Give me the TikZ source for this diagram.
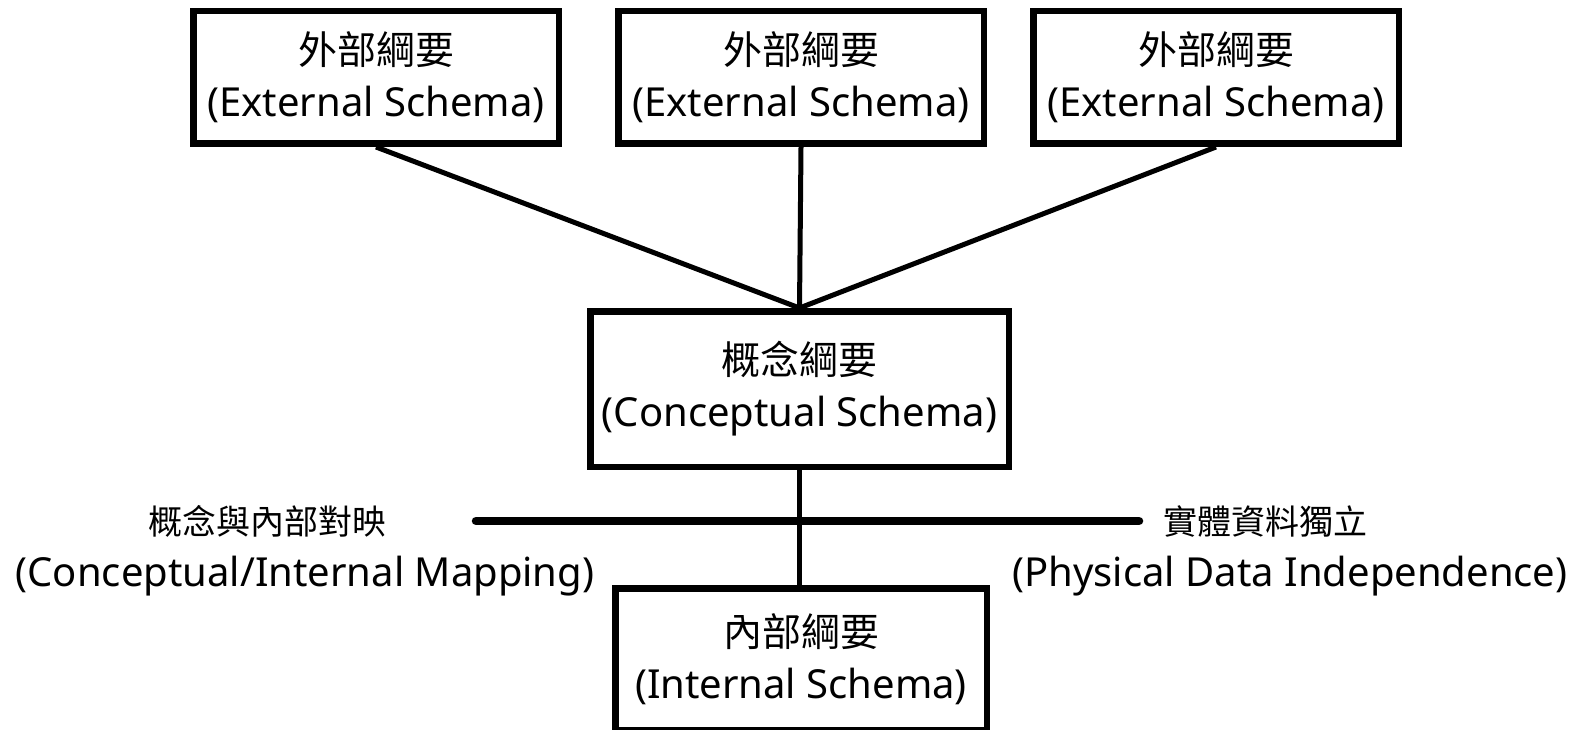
\documentclass[tikz,border=0pt]{standalone}
\usepackage{fontspec}
\setmainfont{Noto Sans}
\newfontfamily\cjk{Noto Sans CJK TC}
\newcommand{\zhbox}[1]{{\cjk\fontsize{39}{52}\selectfont #1}}
\newcommand{\zhlabel}[1]{{\cjk\fontsize{34}{52}\selectfont #1}}

\begin{document}
\begin{tikzpicture}[x=1pt,y=-1pt,
  schemabox/.style={draw, line width=6.5pt, inner sep=0pt, align=center,
    font=\fontsize{40}{52}\selectfont},
  toprow/.style={schemabox, minimum width=365.5pt, minimum height=132.5pt},
  link/.style={line width=5pt},
  mapbar/.style={line width=8.5pt, line cap=round},
  sidelabel/.style={inner sep=0pt, align=center, font=\fontsize{40}{52}\selectfont}]
\useasboundingbox (0,0) rectangle (1574,730);

% external level
\node[toprow] (ext1) at (376,77.5) {\zhbox{外部綱要}\\(External Schema)};
\node[toprow] (ext2) at (801,77.5) {\zhbox{外部綱要}\\(External Schema)};
\node[toprow] (ext3) at (1216,77.5) {\zhbox{外部綱要}\\(External Schema)};

% conceptual level
\node[schemabox, minimum width=418.5pt, minimum height=155.5pt] (concept) at (799.5,389)
  {\zhbox{概念綱要}\\(Conceptual Schema)};

% internal level
\node[schemabox, minimum width=371.5pt, minimum height=141.5pt] (internal) at (801,659)
  {\zhbox{內部綱要}\\(Internal Schema)};

% connectors between the levels
\draw[link] (ext1.south) -- (concept.north);
\draw[link] (ext2.south) -- (concept.north);
\draw[link] (ext3.south) -- (concept.north);
\draw[link] (concept.south) -- (concept.south |- internal.north);

% conceptual/internal mapping bar
\coordinate (barL) at (476,521);
\coordinate (barR) at (1139,521);
\draw[mapbar] (barL) -- (barR);

\node[sidelabel] (maplabel) at (305,551)
  {\zhlabel{概念與內部對映}\hspace*{76pt}\\(Conceptual/Internal Mapping)};
\node[sidelabel] (indeplabel) at (1290,551)
  {\zhlabel{實體資料獨立}\hspace*{50pt}\\(Physical Data Independence)};
\end{tikzpicture}
\end{document}
